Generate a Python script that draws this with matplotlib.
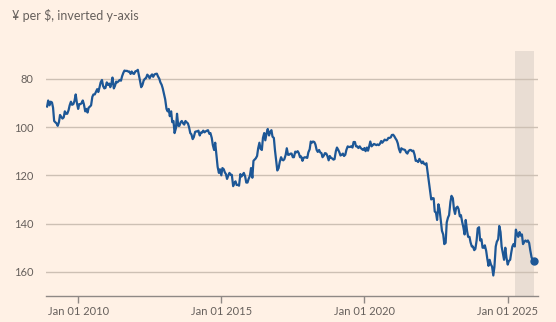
import matplotlib
matplotlib.use("Agg")
import matplotlib.pyplot as plt
import matplotlib.dates as mdates
import pandas as pd

# yen per dollar, read off the chart roughly twice a month (1st / 15th)
start_date = "2008-12-01"
usdjpy = [
    # 2008 Dec
    91.5, 89.0,
    # 2009
    91.0, 89.5, 89.8, 92.0, 97.5, 98.0, 98.5, 99.5, 98.0, 95.0, 95.8, 96.5,
    96.0, 93.5, 94.5, 94.5, 93.0, 91.0, 89.5, 90.8, 90.5, 89.2, 86.5, 89.8,
    # 2010
    92.5, 90.5, 90.5, 90.0, 89.0, 90.5, 93.5, 92.5, 94.0, 92.0, 91.5, 91.0,
    87.5, 86.5, 86.5, 85.5, 84.3, 85.5, 83.5, 81.5, 80.5, 83.0, 84.0, 83.8,
    # 2011
    81.5, 82.5, 82.0, 83.5, 82.0, 79.5, 84.0, 83.0, 81.2, 81.5, 81.0, 80.5,
    80.8, 79.0, 77.5, 76.6, 76.8, 76.7, 77.0, 77.0, 78.0, 77.0, 77.8, 78.0,
    # 2012
    76.9, 76.8, 76.3, 78.5, 81.0, 83.5, 82.5, 80.8, 80.0, 79.8, 78.3, 78.8,
    79.8, 78.8, 78.2, 79.2, 78.2, 78.0, 77.9, 79.0, 80.0, 81.5, 82.5, 84.0,
    # 2013
    86.5, 88.5, 92.5, 93.5, 92.5, 95.5, 93.5, 98.0, 97.5, 102.5, 100.5, 94.5,
    99.5, 99.5, 98.0, 97.5, 98.5, 99.0, 97.5, 98.0, 98.5, 100.0, 102.5, 103.0,
    # 2014
    105.0, 104.2, 102.0, 101.8, 101.8, 101.5, 103.5, 102.3, 102.3, 101.5, 102.2, 101.8,
    101.5, 101.3, 102.8, 102.5, 104.5, 107.5, 109.5, 106.5, 112.0, 116.5, 119.0, 117.5,
    # 2015
    120.0, 117.0, 117.5, 118.8, 119.5, 121.5, 120.0, 119.0, 119.8, 119.8, 124.5, 123.2,
    122.5, 124.0, 124.0, 124.3, 119.5, 120.5, 119.8, 119.0, 120.5, 123.0, 123.0, 121.5,
    # 2016
    120.2, 117.0, 121.0, 114.0, 113.5, 113.0, 112.0, 108.8, 106.5, 109.0, 109.5, 104.5,
    102.5, 105.5, 102.5, 100.8, 103.5, 102.0, 101.3, 104.0, 104.5, 109.5, 114.0, 118.0,
    # 2017
    117.0, 114.5, 112.5, 113.5, 113.8, 113.3, 111.5, 108.8, 111.5, 111.5, 111.0, 111.0,
    112.5, 112.5, 110.2, 110.5, 110.0, 110.8, 112.5, 112.2, 114.0, 112.8, 112.5, 112.6,
    # 2018
    112.8, 110.5, 109.2, 106.0, 106.5, 106.0, 106.2, 107.2, 109.5, 110.3, 109.5, 110.5,
    110.8, 112.5, 111.8, 110.8, 111.0, 112.0, 113.8, 112.0, 112.8, 113.0, 113.5, 113.3,
    # 2019
    110.0, 108.5, 109.5, 110.5, 111.8, 111.5, 111.0, 112.0, 111.5, 109.5, 108.0, 108.3,
    108.2, 108.0, 108.5, 106.2, 106.2, 108.0, 108.0, 108.7, 108.0, 108.7, 109.2, 109.5,
    # 2020
    108.7, 110.0, 108.5, 109.8, 108.0, 106.0, 108.0, 107.5, 107.0, 107.2, 107.5, 107.2,
    107.5, 107.0, 105.8, 106.5, 105.8, 105.2, 105.5, 105.4, 104.5, 104.5, 104.3, 103.3,
    # 2021
    103.2, 103.8, 104.8, 105.5, 106.8, 109.0, 110.5, 108.8, 109.2, 109.3, 109.5, 110.5,
    111.0, 110.0, 109.5, 109.5, 110.0, 109.8, 111.5, 114.0, 114.0, 114.5, 113.2, 114.0,
    # 2022
    115.0, 114.3, 115.3, 115.5, 115.0, 118.5, 122.5, 126.5, 130.0, 129.5, 129.5, 135.0,
    135.5, 138.5, 132.0, 134.0, 139.0, 143.0, 144.5, 148.5, 148.0, 139.5, 137.5, 136.5,
    # 2023
    131.0, 128.5, 129.5, 134.0, 136.0, 133.5, 133.0, 134.0, 137.0, 136.5, 139.5, 141.5,
    144.5, 138.5, 143.0, 145.5, 145.5, 147.8, 149.5, 149.5, 151.0, 150.5, 147.0, 142.0,
    # 2024
    141.5, 147.0, 146.5, 150.0, 150.0, 149.0, 151.3, 154.5, 157.5, 155.0, 157.0, 157.8,
    161.5, 158.0, 149.5, 147.5, 146.5, 141.0, 143.5, 149.5, 152.5, 155.0, 150.0, 154.0,
    # 2025
    157.0, 155.5, 155.0, 152.0, 149.5, 148.5, 149.5, 142.5, 144.5, 145.5, 143.5, 145.0,
    144.5, 148.5, 147.5, 147.0, 147.5, 147.0, 148.0, 151.0, 154.0, 155.0, 155.5,
]
dates = pd.date_range(start=start_date, periods=len(usdjpy), freq="SMS")

shade_start = "2025-04-10"
y_ticks = [80, 100, 120, 140, 160]
x_ticks = ["2010-01-01", "2015-01-01", "2020-01-01", "2025-01-01"]
title = "¥ per $, inverted y-axis"

bg = "#fff1e5"
line_col = "#1d5796"
grid_col = "#cdc0b4"
text_col = "#66605c"

plt.rcParams["font.family"] = ["Lato", "DejaVu Sans"]

fig = plt.figure(figsize=(5.56, 3.22), dpi=100, facecolor=bg)
ax = fig.add_axes([46 / 556, 26 / 322, 492 / 556, 245 / 322])
ax.set_facecolor(bg)

ax.axvspan(pd.Timestamp(shade_start), dates[-1], color="#e9ddd3", lw=0, zorder=0)
ax.plot(dates, usdjpy, color=line_col, lw=1.6, zorder=3, solid_joinstyle="round")
ax.plot(dates[-1], usdjpy[-1], "o", color=line_col, ms=5, zorder=4)

ax.set_ylim(170, 68.5)
ax.set_xlim(pd.Timestamp("2008-11-17"), pd.Timestamp("2026-01-22"))

ax.set_yticks(y_ticks)
ax.yaxis.grid(True, color=grid_col, lw=1)
ax.set_axisbelow(True)
ax.tick_params(axis="y", length=0, pad=9, labelsize=8, labelcolor=text_col)

ax.set_xticks([pd.Timestamp(d) for d in x_ticks])
ax.xaxis.set_major_formatter(mdates.DateFormatter("%b %d %Y"))
ax.tick_params(axis="x", length=5, width=1, color="#8f8985", pad=2,
               labelsize=8, labelcolor=text_col)

for s in ["top", "right", "left"]:
    ax.spines[s].set_visible(False)
ax.spines["bottom"].set_color("#8f8985")
ax.spines["bottom"].set_linewidth(1)

fig.text(12 / 556, 1 - 15 / 322, title, fontsize=9, color=text_col, va="center", ha="left")

fig.savefig("out.png", dpi=100, facecolor=bg)
